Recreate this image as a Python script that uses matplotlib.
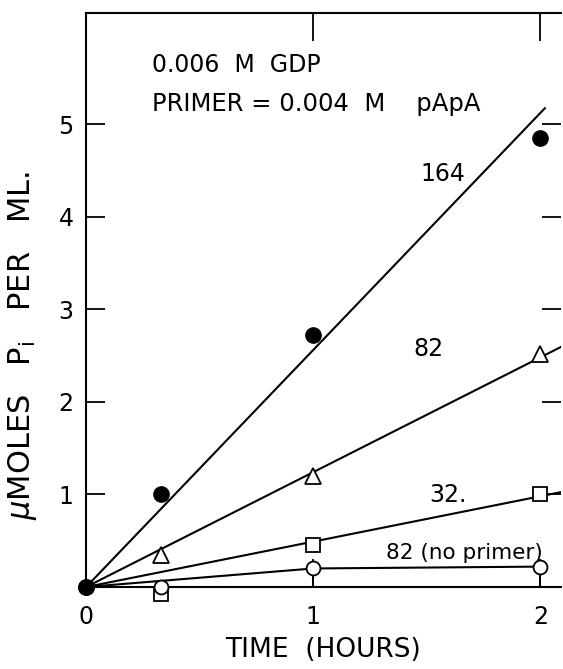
import matplotlib
matplotlib.use("Agg")
import matplotlib.pyplot as plt
import numpy as np

# =========================
# data
# =========================
t = [0, 0.33, 1, 2]
pi_164 = [0, 1.0, 2.72, 4.85]
pi_82 = [0, 0.35, 1.2, 2.52]
pi_32 = [0, -0.08, 0.45, 1.0]
pi_82_noprimer = [0, 0.0, 0.2, 0.22]

# fitted lines through origin: slope, end time
fit_164 = (2.56, 2.02)
fit_82 = (1.24, 2.09)
fit_32 = (0.49, 2.09)

plt.rcParams["font.family"] = ["DejaVu Sans"]
fig = plt.figure(figsize=(5.63, 6.69), dpi=100)
ax = fig.add_axes([0.153, 0.1226, 0.843, 0.858])

for slope, tend in [fit_164, fit_82, fit_32]:
    xs = np.array([0, tend])
    ax.plot(xs, slope * xs, color="black", lw=1.5, zorder=2)
ax.plot(t[:1] + t[2:], pi_82_noprimer[:1] + pi_82_noprimer[2:], color="black", lw=1.5, zorder=2)
ax.vlines(t[2:], 0, pi_82_noprimer[2:], color="black", lw=1.2)

ms = 11
ax.plot(t, pi_164, "o", color="black", ms=ms, zorder=3, clip_on=False)
ax.plot(t[1:], pi_82[1:], "^", mfc="white", mec="black", mew=1.3, ms=ms, zorder=3, clip_on=False)
ax.plot(t[1:], pi_32[1:], "s", mfc="white", mec="black", mew=1.3, ms=ms - 1, zorder=3, clip_on=False)
ax.plot(t[1:], pi_82_noprimer[1:], "o", mfc="white", mec="black", mew=1.3, ms=ms - 1, zorder=4, clip_on=False)
ax.plot([0], [0], "o", color="black", ms=ms, zorder=5, clip_on=False)

ax.text(1.47, 4.38, "164", fontsize=17)
ax.text(1.44, 2.5, "82", fontsize=17)
ax.text(1.51, 0.92, "32.", fontsize=17)
ax.text(1.32, 0.3, "82 (no primer)", fontsize=15.5)
ax.text(0.29, 5.56, "0.006  M  GDP", fontsize=17)
ax.text(0.29, 5.14, "PRIMER = 0.004  M    pApA", fontsize=17.5)

ax.set_xlim(0, 2.09)
ax.set_ylim(0, 6.2)
ax.set_xticks([0, 1, 2])
ax.set_yticks([1, 2, 3, 4, 5])
ax.tick_params(direction="in", width=1.3, labelsize=17, top=True, right=True)
ax.tick_params(axis="x", length=20, pad=13)
ax.tick_params(axis="y", length=14, pad=9)
ax.spines["right"].set_visible(False)
for s in ["left", "top", "bottom"]:
    ax.spines[s].set_linewidth(1.5)

ax.set_xlabel("TIME  (HOURS)", fontsize=19, labelpad=6)
ax.set_ylabel(r"$\mu$MOLES   P$_{\rm i}$   PER   ML.", fontsize=22)
ax.yaxis.set_label_coords(-0.1, 0.42)

plt.savefig("out.png", dpi=100)
plt.close()
